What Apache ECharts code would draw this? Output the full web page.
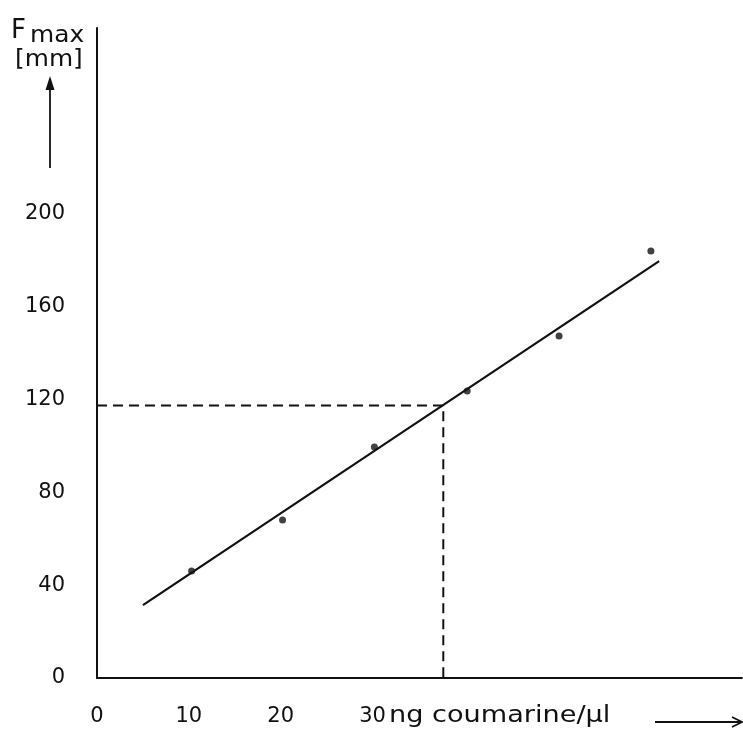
<!DOCTYPE html>
<html>
<head>
<meta charset="utf-8">
<script src="https://cdn.jsdelivr.net/npm/echarts@6/dist/echarts.min.js"></script>
<style>
html,body{margin:0;padding:0;background:#fff;}
#chart{width:743px;height:731px;}
</style>
</head>
<body>
<div id="chart"></div>
<script>
// Data
const pointX = [10.3, 20.2, 30.2, 40.3, 50.3, 60.3];
const pointY = [46.1, 68.1, 99.5, 123.6, 147.3, 183.9];
const fitX = [5.0, 61.2];
const fitY = [31.4, 179.6];
const readX = 37.7;
const readY = 117.4;  // Fmax at the dashed line
const xTickLabels = [0, 10, 20, 30];
const yTickLabels = [0, 40, 80, 120, 160, 200];
const xUnit = 'ng coumarine/\u00B5l';

const ink = '#111111';
const font = 'DejaVu Sans';

const chart = echarts.init(document.getElementById('chart'), null, {renderer: 'canvas'});

const option = {
  backgroundColor: '#ffffff',
  animation: false,
  grid: {left: 97, top: 28, right: 0, bottom: 53, containLabel: false},
  xAxis: {
    type: 'value', min: 0, max: 70.2, interval: 10,
    axisLine: {show: true, onZero: false, lineStyle: {color: ink, width: 2}},
    axisTick: {show: false},
    splitLine: {show: false},
    axisLabel: {
      margin: 28, color: ink, fontFamily: font, fontSize: 21,
      showMaxLabel: false,
      formatter: v => xTickLabels.indexOf(v) >= 0 ? String(v) : ''
    }
  },
  yAxis: {
    type: 'value', min: 0, max: 280, interval: 40,
    axisLine: {show: true, onZero: false, lineStyle: {color: ink, width: 2}},
    axisTick: {show: false},
    splitLine: {show: false},
    axisLabel: {
      margin: 32, color: ink, fontFamily: font, fontSize: 21,
      formatter: v => yTickLabels.indexOf(v) >= 0 ? String(v) : ''
    }
  },
  series: [
    {
      type: 'line', name: 'fit',
      data: fitX.map((x, i) => [x, fitY[i]]),
      symbol: 'none', lineStyle: {color: ink, width: 2.2}, z: 3
    },
    {
      type: 'line', name: 'read',
      data: [[0, readY], [readX, readY], [readX, 0]],
      symbol: 'none', lineStyle: {color: ink, width: 2, type: [10, 6]}, z: 2
    },
    {
      type: 'scatter', name: 'measured',
      data: pointX.map((x, i) => [x, pointY[i]]),
      symbol: 'circle', symbolSize: 7,
      itemStyle: {color: ink}, z: 4
    }
  ],
  graphic: [
    {type: 'text', x: 11, y: 31, style: {text: 'F', font: '26px "DejaVu Sans"', fill: ink, textVerticalAlign: 'middle'}},
    {type: 'text', x: 30, y: 36, scaleX: 1.08, style: {text: 'max', font: '23px "DejaVu Sans"', fill: ink, textVerticalAlign: 'middle'}},
    {type: 'text', x: 15, y: 60, scaleX: 1.08, style: {text: '[mm]', font: '23px "DejaVu Sans"', fill: ink, textVerticalAlign: 'middle'}},
    {type: 'line', shape: {x1: 50, y1: 168, x2: 50, y2: 84}, style: {stroke: ink, lineWidth: 1.8}},
    {type: 'polygon', shape: {points: [[50, 76], [45.5, 90], [54.5, 90]]}, style: {fill: ink}},
    {type: 'text', x: 389, y: 716, scaleX: 1.18, style: {text: xUnit, font: '23px "DejaVu Sans"', fill: ink, textVerticalAlign: 'middle'}},
    {type: 'line', shape: {x1: 655, y1: 722, x2: 741, y2: 722}, style: {stroke: ink, lineWidth: 1.8}},
    {type: 'polyline', shape: {points: [[732, 717], [742, 722], [732, 727]]}, style: {stroke: ink, lineWidth: 1.8, fill: null}}
  ]
};
chart.setOption(option);
</script>
</body>
</html>
